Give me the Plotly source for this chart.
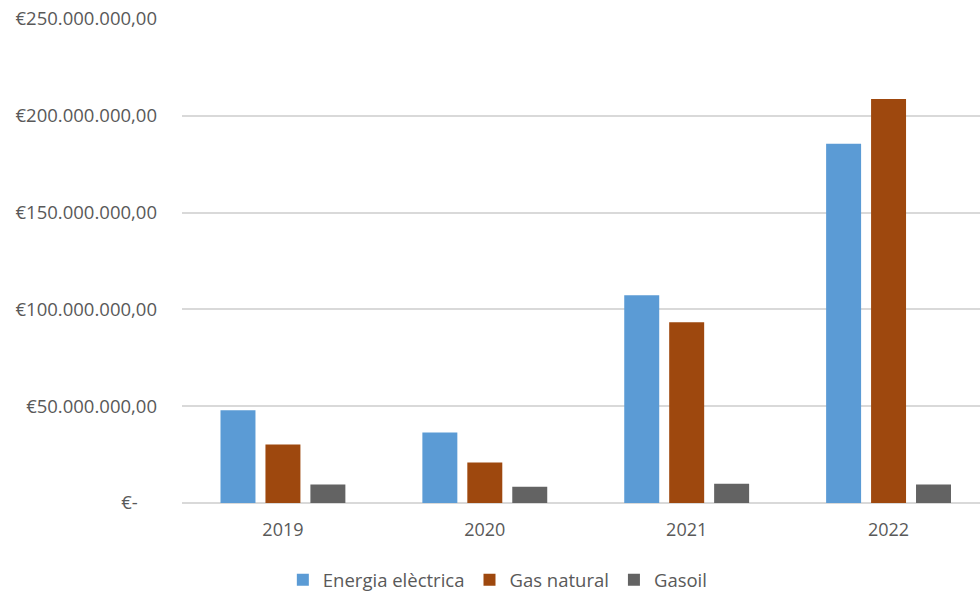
import plotly.graph_objects as go

# Annual energy cost per source (EUR)
years = ["2019", "2020", "2021", "2022"]
energia_electrica = [47_900_000, 36_400_000, 107_300_000, 185_500_000]
gas_natural = [30_200_000, 20_900_000, 93_300_000, 208_700_000]
gasoil = [9_500_000, 8_400_000, 10_000_000, 9_500_000]

tick_values = [0, 50_000_000, 100_000_000, 150_000_000, 200_000_000, 250_000_000]
tick_labels = ["€-\u00a0\u00a0\u00a0\u00a0", "€50.000.000,00", "€100.000.000,00",
               "€150.000.000,00", "€200.000.000,00", "€250.000.000,00"]

series = [
    ("Energia elèctrica", energia_electrica, "#5B9BD5"),
    ("Gas natural", gas_natural, "#9E480E"),
    ("Gasoil", gasoil, "#636363"),
]

fig = go.Figure()
for name, values, color in series:
    fig.add_trace(go.Bar(
        x=years, y=values, name=name,
        marker=dict(color=color, line=dict(width=0)),
    ))

font_family = "Open Sans, Noto Sans, sans-serif"
fig.update_layout(
    width=980, height=597,
    margin=dict(l=182, r=0, t=19, b=94),
    paper_bgcolor="white", plot_bgcolor="white",
    barmode="group", bargap=0.332, bargroupgap=0.222,
    font=dict(family=font_family, size=18, color="#595959"),
    showlegend=True,
    legend=dict(
        orientation="h", xref="container", x=0.508, xanchor="center",
        yref="container", y=0.028, yanchor="middle",
        font=dict(size=18.5, color="#595959"),
        itemwidth=30, traceorder="normal",
    ),
    xaxis=dict(
        range=[-0.5, 3.453],
        showgrid=False, showline=False, zeroline=False,
        ticks="", ticklabelstandoff=14, tickfont=dict(size=18),
    ),
    yaxis=dict(
        range=[0, 250_000_000], tickvals=tick_values, ticktext=tick_labels,
        showgrid=True, gridcolor="#D9D9D9", gridwidth=1.5,
        zeroline=True, zerolinecolor="#D9D9D9", zerolinewidth=1.5,
        showline=False, ticks="", ticklabelstandoff=24,
        tickfont=dict(size=18.5),
    ),
)

fig.write_html("out.html")
